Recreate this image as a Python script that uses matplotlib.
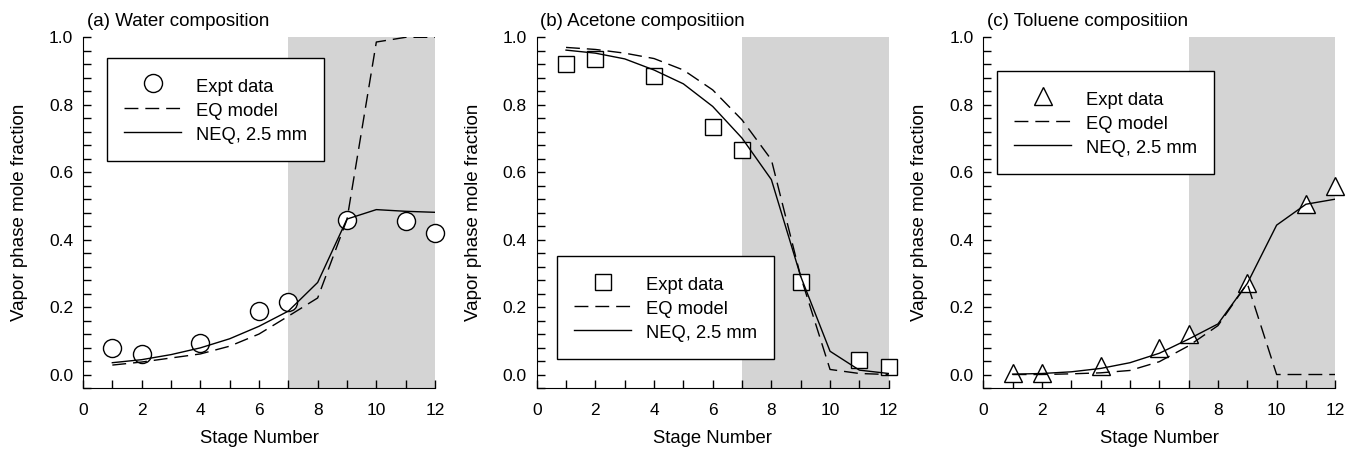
import numpy as np
import matplotlib
matplotlib.use('Agg')
import matplotlib.pyplot as plt
from matplotlib.ticker import MultipleLocator, FormatStrFormatter

plt.rcParams['font.family'] = ['Liberation Sans', 'DejaVu Sans']
plt.rcParams['font.size'] = 12

stages = [1, 2, 3, 4, 5, 6, 7, 8, 9, 10, 11, 12]
expt_stages = [1, 2, 4, 6, 7, 9, 11, 12]

# (a) water
water_expt = [0.079, 0.062, 0.092, 0.188, 0.215, 0.459, 0.454, 0.420]
water_eq = [0.028, 0.037, 0.049, 0.061, 0.084, 0.120, 0.173, 0.227, 0.460, 0.986, 1.0, 1.0]
water_neq = [0.035, 0.044, 0.059, 0.079, 0.106, 0.143, 0.188, 0.273, 0.461, 0.489, 0.484, 0.481]

# (b) acetone
acetone_expt = [0.921, 0.935, 0.885, 0.735, 0.666, 0.273, 0.044, 0.022]
acetone_eq = [0.970, 0.964, 0.953, 0.937, 0.903, 0.844, 0.755, 0.637, 0.290, 0.015, 0.003, 0.0]
acetone_neq = [0.962, 0.953, 0.936, 0.903, 0.862, 0.795, 0.701, 0.578, 0.291, 0.069, 0.013, 0.003]

# (c) toluene
toluene_expt = [0.003, 0.003, 0.025, 0.080, 0.120, 0.270, 0.505, 0.560]
toluene_eq = [0.0, 0.0, 0.002, 0.005, 0.012, 0.038, 0.085, 0.145, 0.270, 0.0, 0.0, 0.0]
toluene_neq = [0.001, 0.003, 0.008, 0.018, 0.035, 0.063, 0.105, 0.150, 0.270, 0.443, 0.505, 0.520]

titles = ['(a) Water composition', '(b) Acetone compositiion', '(c) Toluene compositiion']
markers = ['o', 's', '^']
msizes = [13, 11, 13]
expts = [water_expt, acetone_expt, toluene_expt]
eqs = [water_eq, acetone_eq, toluene_eq]
neqs = [water_neq, acetone_neq, toluene_neq]
legend_pos = [(0.068, 0.941), (0.057, 0.376), (0.039, 0.904)]

W, H = 1347, 449
fig = plt.figure(figsize=(W / 100, H / 100), dpi=100)
lefts = [83, 536.7, 983.3]
ax_w = 352
ax_top, ax_bot = 37.3, 388

for i in range(3):
    ax = fig.add_axes([lefts[i] / W, (H - ax_bot) / H, ax_w / W, (ax_bot - ax_top) / H])
    ax.axvspan(7, 12, color='#d4d4d4', lw=0, zorder=0)
    ax.plot(expt_stages, expts[i], ls='none', marker=markers[i], ms=msizes[i],
            mfc='white', mec='black', mew=1.0, clip_on=False, zorder=2, label='Expt data')
    ax.plot(stages, eqs[i], color='black', lw=1.0, dashes=(10, 5), zorder=3, label='EQ model')
    ax.plot(stages, neqs[i], color='black', lw=1.0, zorder=3, label='NEQ, 2.5 mm')

    ax.set_xlim(0, 12)
    ax.set_ylim(-0.04, 1.0)
    ax.spines['top'].set_visible(False)
    ax.spines['right'].set_visible(False)
    ax.xaxis.set_major_locator(MultipleLocator(2))
    ax.xaxis.set_minor_locator(MultipleLocator(1))
    ax.yaxis.set_major_locator(MultipleLocator(0.2))
    ax.yaxis.set_minor_locator(MultipleLocator(0.04))
    ax.yaxis.set_major_formatter(FormatStrFormatter('%.1f'))
    ax.tick_params(which='both', direction='in', length=5.5, width=1.0)
    ax.tick_params(axis='x', which='major', pad=10.5, labelsize=12.5)
    ax.tick_params(axis='y', which='major', pad=7, labelsize=12.5)

    ax.set_xlabel('Stage Number', fontsize=13.3, labelpad=9)
    ax.set_ylabel('Vapor phase mole fraction', fontsize=13.5)
    ax.yaxis.set_label_coords(-0.156, 0.5)

    ax.text(0.01, 1.046, titles[i], transform=ax.transAxes, fontsize=13.5, ha='left', va='center')

    leg = ax.legend(loc='upper left', bbox_to_anchor=legend_pos[i], borderaxespad=0,
                    fancybox=False, edgecolor='black', framealpha=1, fontsize=13.2,
                    handlelength=3.1, handletextpad=0.8, borderpad=0.95,
                    labelspacing=0.22, handleheight=1.3)
    leg.get_frame().set_linewidth(1.0)

fig.savefig('out.png', dpi=100)
